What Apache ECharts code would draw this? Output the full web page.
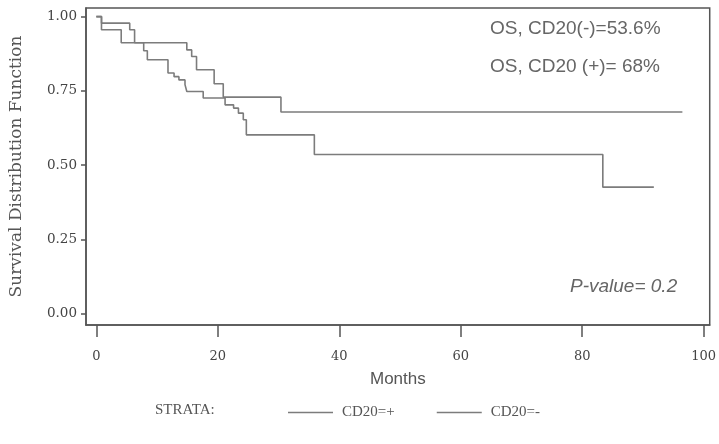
<!DOCTYPE html>
<html>
<head>
<meta charset="utf-8">
<script src="https://cdn.jsdelivr.net/npm/echarts@6/dist/echarts.min.js"></script>
<style>
html,body{margin:0;padding:0;background:#fff;}
#chart{width:719px;height:444px;}
</style>
</head>
<body>
<div id="chart"></div>
<script>
// ---- data ----
const monthTicks = [0, 20, 40, 60, 80, 100];
const survTicks = [0, 0.25, 0.5, 0.75, 1.0];
const cd20PosTime = [0, 0.85, 5.5, 6.3, 14.9, 15.7, 16.5, 19.4, 20.9, 30.4, 96.5];
const cd20PosSurv = [1.0, 0.978, 0.956, 0.912, 0.888, 0.866, 0.821, 0.774, 0.729, 0.679, 0.679];
const cd20NegTime = [0, 0.85, 4.1, 7.8, 8.4, 11.8, 12.8, 13.6, 14.6, 14.9, 17.6, 21.2, 22.6, 23.4, 24.2, 24.7, 35.9, 83.4, 91.8];
const cd20NegSurv = [1.0, 0.956, 0.912, 0.885, 0.855, 0.81, 0.798, 0.787, 0.771, 0.748, 0.726, 0.703, 0.692, 0.675, 0.653, 0.602, 0.536, 0.426, 0.426];
const seriesNames = ['CD20=+', 'CD20=-'];
const strataLabel = 'STRATA:';
const yTitle = 'Survival Distribution Function';
const xTitle = 'Months';
const noteLines = ['OS, CD20(-)=53.6%', 'OS, CD20 (+)= 68%'];
const pNote = 'P-value= 0.2';

function zip(a, b) { return a.map((v, i) => [v, b[i]]); }

const chart = echarts.init(document.getElementById('chart'), null, {renderer: 'canvas'});
const lineColor = '#7c7c7c';
const axisColor = '#555';
chart.setOption({
  animation: false,
  backgroundColor: '#fff',
  grid: {left: 81, right: 8, top: 8, bottom: 119, show: true, borderColor: axisColor, borderWidth: 1.5, backgroundColor: 'transparent'},
  xAxis: {
    type: 'value', min: -1.7, max: 101,
    splitLine: {show: false},
    axisLine: {show: true, onZero: false, lineStyle: {color: axisColor, width: 1.5}},
    axisTick: {show: true, customValues: monthTicks, length: 12, lineStyle: {color: axisColor, width: 1.5}},
    axisLabel: {customValues: monthTicks, margin: 25, color: '#444', fontFamily: 'DejaVu Serif', fontSize: 13},
    name: xTitle, nameLocation: 'middle', nameGap: 46,
    nameTextStyle: {fontFamily: 'Liberation Sans', fontSize: 17, color: '#555'}
  },
  yAxis: {
    type: 'value', min: -0.038, max: 1.029,
    splitLine: {show: false},
    axisLine: {show: true, onZero: false, lineStyle: {color: axisColor, width: 1.5}},
    axisTick: {show: true, customValues: survTicks, length: 5, lineStyle: {color: axisColor, width: 1.5}},
    axisLabel: {customValues: survTicks, margin: 9, color: '#444', fontFamily: 'DejaVu Serif', fontSize: 13.5,
      formatter: v => v.toFixed(2)},
    name: yTitle, nameLocation: 'middle', nameGap: 61, nameRotate: 90,
    nameTextStyle: {fontFamily: 'DejaVu Serif', fontSize: 17, color: '#555'}
  },
  legend: {
    left: 283, top: 400, itemWidth: 45, itemHeight: 1.5, itemGap: 42, icon: 'rect',
    data: seriesNames,
    textStyle: {fontFamily: 'Liberation Serif', fontSize: 15, color: '#555', padding: [0, 0, 0, 4]}
  },
  graphic: [
    {type: 'text', left: 155, top: 403, style: {text: strataLabel, font: '15px "Liberation Serif"', fill: '#555'}},
    {type: 'text', left: 490, top: 19, style: {text: noteLines[0], font: '19px "Liberation Sans"', fill: '#666'}},
    {type: 'text', left: 490, top: 57, style: {text: noteLines[1], font: '19px "Liberation Sans"', fill: '#666'}},
    {type: 'text', left: 570, top: 277, style: {text: pNote, font: 'italic 19px "Liberation Sans"', fill: '#666'}}
  ],
  series: [
    {name: seriesNames[0], type: 'line', step: 'end', showSymbol: false, data: zip(cd20PosTime, cd20PosSurv),
      lineStyle: {color: lineColor, width: 1.6}, itemStyle: {color: lineColor}},
    {name: seriesNames[1], type: 'line', step: 'end', showSymbol: false, data: zip(cd20NegTime, cd20NegSurv),
      lineStyle: {color: lineColor, width: 1.6}, itemStyle: {color: lineColor}}
  ]
});
</script>
</body>
</html>
